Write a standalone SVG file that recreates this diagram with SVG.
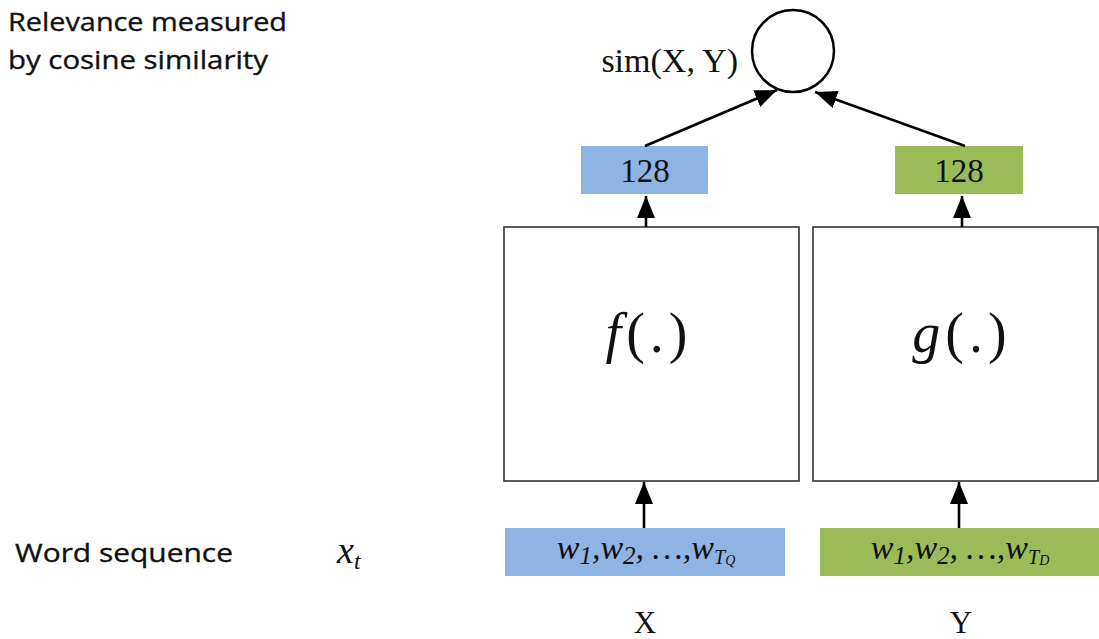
<svg xmlns="http://www.w3.org/2000/svg" width="1099" height="639" viewBox="0 0 1099 639">
  <defs>
    <style>
      .lbl { font-family: "Open Sans", "Noto Sans", sans-serif; font-size: 26px; fill: #111; stroke: #111; stroke-width: 0.35; }
      .tm { font-family: "Liberation Serif", "Times New Roman", serif; fill: #111; }
      .box { fill: #fff; stroke: #333; stroke-width: 1.6; }
      .blue { fill: #8EB4E3; }
      .green { fill: #9BBB59; }
      .arr { stroke: #000; stroke-width: 2.6; fill: none; marker-end: url(#ah); }
    </style>
    <marker id="ah" markerUnits="userSpaceOnUse" markerWidth="24" markerHeight="20" refX="22" refY="9" orient="auto">
      <path d="M0,0 L22,9 L0,18 Z" fill="#000"/>
    </marker>
  </defs>
  <rect width="1099" height="639" fill="#fff"/>

  <g id="labels">
    <text class="lbl" x="8" y="31" textLength="279" lengthAdjust="spacingAndGlyphs">Relevance measured</text>
    <text class="lbl" x="8" y="69" textLength="260" lengthAdjust="spacingAndGlyphs">by cosine similarity</text>
    <text class="lbl" x="15" y="562" textLength="218" lengthAdjust="spacingAndGlyphs">Word sequence</text>
    <text class="tm" x="337" y="563" font-size="38" font-style="italic">x<tspan font-size="24" dy="6">t</tspan></text>
  </g>

  <g id="sim">
    <circle cx="793" cy="51" r="41" fill="#fff" stroke="#000" stroke-width="2.5"/>
    <text class="tm" x="738" y="72" font-size="34" text-anchor="end">sim(X, Y)</text>
  </g>

  <g id="vecX">
    <rect class="blue" x="581" y="146" width="127" height="48"/>
    <text class="tm" x="645" y="182" font-size="33" text-anchor="middle">128</text>
  </g>
  <g id="vecY">
    <rect class="green" x="895" y="146" width="128" height="48"/>
    <text class="tm" x="959" y="182" font-size="33" text-anchor="middle">128</text>
  </g>

  <g id="f">
    <rect class="box" x="504" y="227" width="295" height="254"/>
    <text class="tm" x="649" y="352" font-size="56" text-anchor="middle" letter-spacing="5"><tspan font-style="italic">f</tspan>(.)</text>
  </g>
  <g id="g">
    <rect class="box" x="813" y="227" width="285" height="254"/>
    <text class="tm" x="962" y="352" font-size="56" text-anchor="middle" letter-spacing="5"><tspan font-style="italic">g</tspan>(.)</text>
  </g>

  <g id="seqX">
    <rect class="blue" x="505" y="528" width="280" height="48"/>
    <text class="tm" x="646" y="559" font-size="34" font-style="italic" text-anchor="middle">w<tspan font-size="25" dy="5">1</tspan><tspan dy="-5">,w</tspan><tspan font-size="25" dy="5">2</tspan><tspan dy="-5">, …,w</tspan><tspan font-size="20" dy="5">T</tspan><tspan font-size="14" dy="1">Q</tspan></text>
  </g>
  <g id="seqY">
    <rect class="green" x="820" y="528" width="279" height="48"/>
    <text class="tm" x="960" y="559" font-size="34" font-style="italic" text-anchor="middle">w<tspan font-size="25" dy="5">1</tspan><tspan dy="-5">,w</tspan><tspan font-size="25" dy="5">2</tspan><tspan dy="-5">, …,w</tspan><tspan font-size="20" dy="5">T</tspan><tspan font-size="14" dy="1">D</tspan></text>
  </g>

  <g id="nameX"><text class="tm" x="645" y="633" font-size="31" text-anchor="middle">X</text></g>
  <g id="nameY"><text class="tm" x="961" y="633" font-size="31" text-anchor="middle">Y</text></g>

  <g id="connectors">
    <line class="arr" x1="645" y1="146" x2="777" y2="90"/>
    <line class="arr" x1="965" y1="146" x2="815" y2="92"/>
    <line class="arr" x1="646" y1="227" x2="646" y2="196"/>
    <line class="arr" x1="962" y1="227" x2="962" y2="196"/>
    <line class="arr" x1="644" y1="528" x2="644" y2="482"/>
    <line class="arr" x1="959" y1="528" x2="959" y2="482"/>
  </g>
</svg>
